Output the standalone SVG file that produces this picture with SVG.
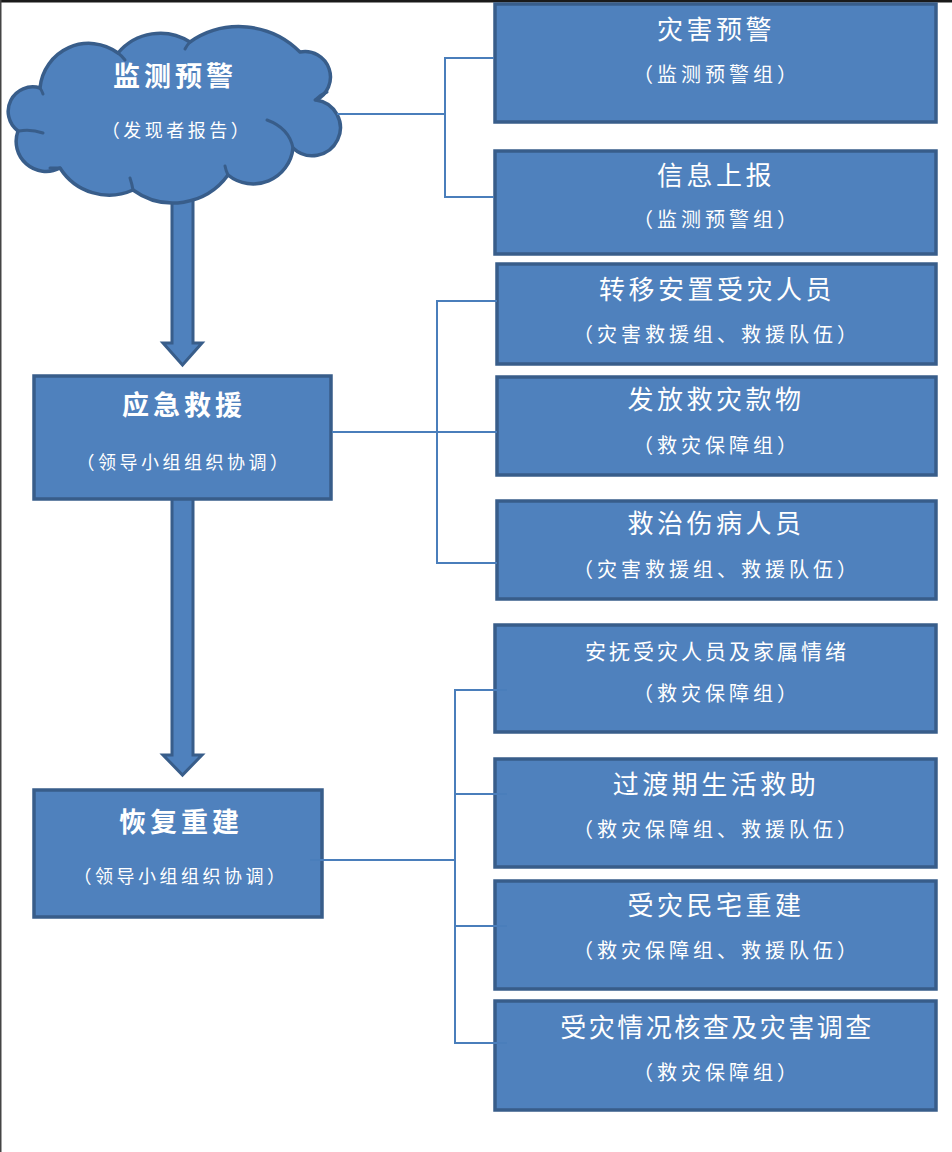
<svg xmlns="http://www.w3.org/2000/svg" width="952" height="1152" viewBox="0 0 952 1152">
<style>
.box{fill:#4F81BD;stroke:#385D8A;stroke-width:3.5}
.arrow{fill:#4F81BD;stroke:#385D8A;stroke-width:3;stroke-linejoin:miter}
.conn{fill:none;stroke:#4A7EBB;stroke-width:2}
.t{font-family:"Noto Sans CJK SC","Noto Sans CJK TC",sans-serif;fill:#FFFFFF;text-anchor:middle}
.tt{font-size:26px;letter-spacing:3.5px}
.ts{font-size:20px;letter-spacing:4px}
.tb{font-size:27px;font-weight:bold;letter-spacing:4px}
.tm{font-size:21px;letter-spacing:3px}
.tl{font-size:18px;letter-spacing:3.5px}
.inner{fill:none;stroke:#385D8A;stroke-width:3;stroke-linecap:round}
</style>
<rect x="0" y="0" width="952" height="1152" fill="#FFFFFF"/>
<rect x="0" y="0" width="952" height="2.5" fill="#1a1a1a"/>
<rect x="0" y="0" width="1.5" height="1152" fill="#444444"/>

<g id="arrows">
<path class="arrow" d="M172,195 L193,195 L193,343 L202,343 L182.5,365 L163,343 L172,343 Z"/>
<path class="arrow" d="M172,495 L193,495 L193,755 L202,755 L182.5,775 L163,755 L172,755 Z"/>
</g>

<g id="node-cloud">
<path fill="#4F81BD" stroke="#385D8A" stroke-width="3.5" stroke-linejoin="round" d="M18,131 A24.5,24.5 0 0 1 40,88 A49,49 0 0 1 118,53 A55,55 0 0 1 190,42 A86,86 0 0 1 300,52 A25.5,25.5 0 0 1 316,100 A28,28 0 1 1 293,148 A40,40 0 0 1 228,175 A68,68 0 0 1 133,190 A58,58 0 0 1 60,168 A30,30 0 0 1 18,131 Z"/>
<path class="inner" d="M19,131 Q31,129 43,133"/>
<path class="inner" d="M40,88 Q42,91 43,94"/>
<path class="inner" d="M118,53 Q122,56 125,60"/>
<path class="inner" d="M190,42 Q187,45 185,49"/>
<path class="inner" d="M315,100 Q320,95 327,92"/>
<path class="inner" d="M267,120 Q289,128 293,148"/>
<path class="inner" d="M228,175 Q226,171 225,166"/>
<path class="inner" d="M133,190 Q132,184 130,178"/>
<path class="inner" d="M60,168 Q55,168 50,168"/>
<text class="t tb" x="175" y="86">监测预警</text>
<text class="t tl" x="177" y="137">（发现者报告）</text>
</g>

<g id="node-yingji">
<rect class="box" x="34" y="376" width="297" height="123"/>
<text class="t tb" x="184" y="415">应急救援</text>
<text class="t tl" x="184" y="469">（领导小组组织协调）</text>
</g>

<g id="node-huifu">
<rect class="box" x="34" y="790" width="288" height="127"/>
<text class="t tb" x="181" y="832">恢复重建</text>
<text class="t tl" x="181" y="883">（领导小组组织协调）</text>
</g>

<g id="node-zaihaiyujing">
<rect class="box" x="495" y="4" width="441" height="118"/>
<text class="t tt" x="716" y="39">灾害预警</text>
<text class="t ts" x="717" y="82">（监测预警组）</text>
</g>

<g id="node-xinxishangbao">
<rect class="box" x="495" y="151" width="441" height="103"/>
<text class="t tt" x="716" y="185">信息上报</text>
<text class="t ts" x="717" y="227">（监测预警组）</text>
</g>

<g id="node-zhuanyi">
<rect class="box" x="497" y="264" width="439" height="100"/>
<text class="t tt" x="717" y="299">转移安置受灾人员</text>
<text class="t ts" x="717" y="342">（灾害救援组、救援队伍）</text>
</g>

<g id="node-fafang">
<rect class="box" x="497" y="377" width="439" height="98"/>
<text class="t tt" x="716" y="409">发放救灾款物</text>
<text class="t ts" x="717" y="453">（救灾保障组）</text>
</g>

<g id="node-jiuzhi">
<rect class="box" x="497" y="501" width="439" height="98"/>
<text class="t tt" x="716" y="533">救治伤病人员</text>
<text class="t ts" x="717" y="577">（灾害救援组、救援队伍）</text>
</g>

<g id="node-anfu">
<rect class="box" x="495" y="625" width="441" height="107"/>
<text class="t tm" x="717" y="659">安抚受灾人员及家属情绪</text>
<text class="t ts" x="717" y="701">（救灾保障组）</text>
</g>

<g id="node-guodu">
<rect class="box" x="495" y="759" width="441" height="108"/>
<text class="t tt" x="716" y="794">过渡期生活救助</text>
<text class="t ts" x="717" y="837">（救灾保障组、救援队伍）</text>
</g>

<g id="node-minzhai">
<rect class="box" x="495" y="881" width="441" height="108"/>
<text class="t tt" x="716" y="915">受灾民宅重建</text>
<text class="t ts" x="717" y="958">（救灾保障组、救援队伍）</text>
</g>

<g id="node-hecha">
<rect class="box" x="495" y="1001" width="441" height="109"/>
<text class="t" x="717" y="1037" style="font-size:26px;letter-spacing:2.5px">受灾情况核查及灾害调查</text>
<text class="t ts" x="717" y="1080">（救灾保障组）</text>
</g>

<g id="connectors">
<path class="conn" d="M337,114 H445 M494,58 H445 V197 H494"/>
<path class="conn" d="M332,432 H497 M497,301 H437 V563 H497"/>
<path class="conn" d="M310,860 H455 M507,690 H455 V1043 H507 M455,794 H507 M455,926 H507"/>
</g>
</svg>
